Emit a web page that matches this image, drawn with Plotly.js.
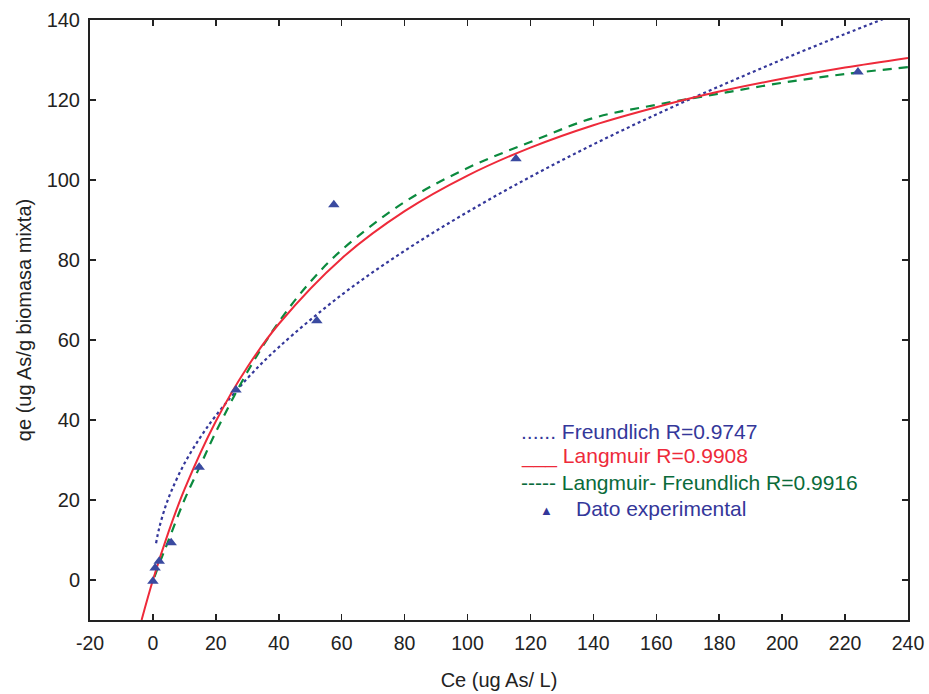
<!DOCTYPE html>
<html><head><meta charset="utf-8">
<script src="https://cdn.plot.ly/plotly-3.0.1.min.js"></script>
<style>html,body{margin:0;padding:0;background:#fff}#chart{width:929px;height:694px}</style>
</head><body><div id="chart"></div>
<script>
// Experimental data
const expCe = [0.0, 0.7, 2.0, 5.8, 14.7, 26.4, 52.1, 57.5, 115.4, 224.1];
const expQe = [-0.3, 3.0, 4.7, 9.3, 28.2, 47.5, 64.8, 93.8, 105.3, 127.0];

// Freundlich curve
const frCe = [1, 2, 4, 6, 10, 15, 20, 30, 40, 60, 80, 100, 120, 140, 160, 180, 200, 220, 232];
const frQe = [9.2, 13.0, 18.4, 22.5, 29.1, 35.6, 41.1, 50.4, 58.2, 71.3, 82.3, 92.0, 100.8, 108.9, 116.4, 123.4, 130.1, 136.5, 140.2];

// Langmuir curve
const laCe = [-3.6, 0, 5, 10, 20, 30, 40, 60, 80, 100, 120, 140, 160, 180, 200, 220, 240];
const laQe = [-10.0, 0, 12.1, 22.6, 39.7, 53.2, 64.0, 80.4, 92.2, 101.1, 108.1, 113.7, 118.2, 122.1, 125.3, 128.1, 130.5];

// Langmuir-Freundlich curve
const lfCe = [0.5, 2, 5, 10, 15, 20, 30, 40, 50, 60, 80, 100, 120, 140, 160, 180, 200, 220, 240];
const lfQe = [0.8, 4, 10, 20, 28.5, 37, 52, 64.5, 74.5, 82.5, 94.5, 103, 109.5, 115.5, 118.8, 121.6, 124.3, 126.5, 128.2];

// Tick labels
const xTickVals = [-20, 0, 20, 40, 60, 80, 100, 120, 140, 160, 180, 200, 220, 240];
const xTickText = ['-20', '0', '20', '40', '60', '80', '100', '120', '140', '160', '180', '200', '220', '240'];
const yTickVals = [0, 20, 40, 60, 80, 100, 120, 140];
const yTickText = ['0', '20', '40', '60', '80', '100', '120', '140'];

const legendTexts = [
  '...... Freundlich R=0.9747',
  '___ Langmuir R=0.9908',
  '----- Langmuir- Freundlich R=0.9916',
  'Dato experimental'
];

const cBlue = '#34379a', cRed = '#ee2a3a', cGreen = '#0b8a3e', cGreenTxt = '#0a6b3a';

const traces = [
  {x: frCe, y: frQe, mode: 'lines', line: {color: cBlue, width: 2.2, dash: 'dot', shape: 'spline'}, hoverinfo: 'skip'},
  {x: lfCe, y: lfQe, mode: 'lines', line: {color: cGreen, width: 2.2, dash: '9px,7px', shape: 'spline'}, hoverinfo: 'skip'},
  {x: laCe, y: laQe, mode: 'lines', line: {color: cRed, width: 2, shape: 'spline'}, hoverinfo: 'skip'},
  {x: expCe, y: expQe, mode: 'markers', marker: {symbol: 'triangle-up', size: 10, color: '#3a4aa0'}, hoverinfo: 'skip'}
];

const font = 'Liberation Sans, Arial, sans-serif';
const ann = (txt, x, y, color, size) => ({text: txt, xref: 'paper', yref: 'paper', x: x, y: y, xanchor: 'left', yanchor: 'middle', showarrow: false, font: {family: font, size: size || 21, color: color}});
// paper coords: plot x from 90..908 (818px), y from 20..620 (600px)
const px = v => (v - 90) / 818, py = v => (620 - v) / 600;

const layout = {
  width: 929, height: 694,
  margin: {l: 90, r: 21, t: 20, b: 74},
  paper_bgcolor: '#fff', plot_bgcolor: '#fff',
  showlegend: false,
  font: {family: font, size: 18, color: '#222'},
  xaxis: {
    range: [-20, 240], tickmode: 'array', tickvals: xTickVals, ticktext: xTickText,
    showgrid: false, zeroline: false,
    showline: true, linecolor: '#222', linewidth: 2, mirror: 'ticks',
    ticks: 'inside', ticklen: 6, tickcolor: '#222', tickwidth: 1.5,
    ticklabelstandoff: 5,
    tickfont: {family: font, size: 19.5, color: '#222'},
    title: {text: 'Ce (ug As/ L)', font: {family: font, size: 20, color: '#222'}, standoff: 20}
  },
  yaxis: {
    range: [-10, 140], tickmode: 'array', tickvals: yTickVals, ticktext: yTickText,
    showgrid: false, zeroline: false,
    showline: true, linecolor: '#222', linewidth: 2, mirror: 'ticks',
    ticks: 'inside', ticklen: 6, tickcolor: '#222', tickwidth: 1.5,
    ticklabelstandoff: 4,
    tickfont: {family: font, size: 20, color: '#222'},
    title: {text: 'qe (ug As/g biomasa mixta)', font: {family: font, size: 20, color: '#222'}, standoff: 10}
  },
  annotations: [
    ann(legendTexts[0], px(519), py(431), cBlue),
    ann(legendTexts[1], px(519), py(456), cRed),
    ann(legendTexts[2], px(519), py(482), cGreenTxt),
    ann('▲', px(538), py(510), cBlue, 13),
    ann(legendTexts[3], px(574), py(508), cBlue)
  ]
};

Plotly.newPlot('chart', traces, layout, {displayModeBar: false, staticPlot: true});
</script>
</body></html>
